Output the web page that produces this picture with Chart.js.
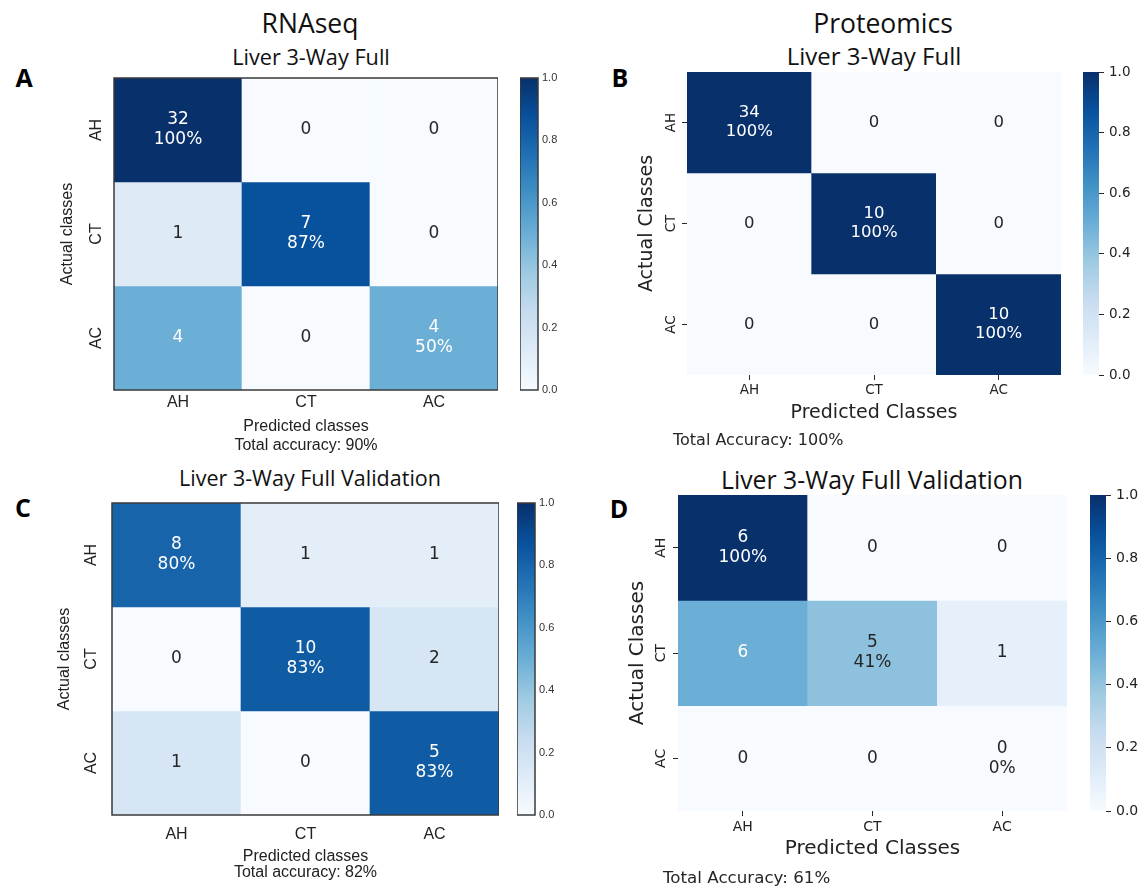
<!DOCTYPE html>
<html>
<head>
<meta charset="utf-8">
<script src="https://cdn.jsdelivr.net/npm/chart.js@4.4.1/dist/chart.umd.min.js"></script>
<style>
  html, body { margin: 0; padding: 0; background: #fff; }
  body { width: 1144px; height: 888px; position: relative; overflow: hidden; font-family: "Open Sans", sans-serif; color: #111; }
  .t { position: absolute; white-space: nowrap; line-height: 1; transform: translate(-50%, -50%); }
  .letter { font-weight: 700; color: #000; }
  .acc { position: absolute; white-space: nowrap; line-height: 1; transform: translateY(-50%); font-family: "DejaVu Sans"; color: #262626; }
  canvas { position: absolute; }
</style>
</head>
<body>
<div class="t" style="left:310px;top:23px;font-size:26.5px">RNAseq</div>
<div class="t" style="left:883px;top:23px;font-size:26.5px">Proteomics</div>

<div class="t letter" style="left:24px;top:77px;font-size:25px">A</div>
<div class="t letter" style="left:620px;top:77px;font-size:25px">B</div>
<div class="t letter" style="left:23px;top:507px;font-size:25px">C</div>
<div class="t letter" style="left:619px;top:508px;font-size:25px">D</div>

<div class="t" style="left:311px;top:57px;font-size:21.7px">Liver 3-Way Full</div>
<div class="t" style="left:874px;top:56px;font-size:24px">Liver 3-Way Full</div>
<div class="t" style="left:310px;top:478px;font-size:21.5px">Liver 3-Way Full Validation</div>
<div class="t" style="left:872px;top:479px;font-size:24.8px">Liver 3-Way Full Validation</div>

<script>
// ---- data -------------------------------------------------------------
const CLASSES = ['AH', 'CT', 'AC'];

// confusion matrices: rows = actual class, columns = predicted class
const RNASEQ_FULL           = [[32, 0, 0], [1, 7, 0], [4, 0, 4]];
const PROTEOMICS_FULL       = [[34, 0, 0], [0, 10, 0], [0, 0, 10]];
const RNASEQ_VALIDATION     = [[8, 1, 1], [0, 10, 2], [1, 0, 5]];
const PROTEOMICS_VALIDATION = [[6, 0, 0], [6, 5, 1], [0, 0, 0]];

const COLORBAR_TICKS = [0, 0.2, 0.4, 0.6, 0.8, 1.0];

// ---- helpers ----------------------------------------------------------
// sequential "Blues" colormap control colours (low -> high)
const BLUES = ['#f7fbff', '#deebf7', '#c6dbef', '#9ecae1', '#6baed6',
               '#4292c6', '#2171b5', '#08519c', '#08306b'];

function hexRgb(h) {
  const n = parseInt(h.slice(1), 16);
  return [(n >> 16) & 255, (n >> 8) & 255, n & 255];
}

function blues(t) {
  t = Math.max(0, Math.min(1, t));
  const pos = t * (BLUES.length - 1);
  const i = Math.min(Math.floor(pos), BLUES.length - 2);
  const f = pos - i;
  const a = hexRgb(BLUES[i]), b = hexRgb(BLUES[i + 1]);
  const c = a.map((v, k) => Math.round(v + (b[k] - v) * f));
  return `rgb(${c[0]},${c[1]},${c[2]})`;
}

function rowShares(m) {
  return m.map(r => {
    const s = r.reduce((a, b) => a + b, 0);
    return r.map(v => (s ? v / s : 0));
  });
}

function accuracy(m) {
  let hit = 0, all = 0;
  m.forEach((r, i) => r.forEach((v, j) => { all += v; if (i === j) hit += v; }));
  return Math.round(100 * hit / all);
}

const measureCtx = document.createElement('canvas').getContext('2d');
function textWidth(txt, size, family) {
  measureCtx.font = `${size}px "${family}"`;
  return measureCtx.measureText(txt).width;
}

Chart.defaults.font.family = 'DejaVu Sans';
Chart.defaults.color = '#262626';

// ---- plugins ----------------------------------------------------------
// count (and row percentage on the diagonal) written in every cell
const cellLabels = {
  id: 'cellLabels',
  afterDatasetsDraw(chart, args, opts) {
    if (!opts.counts) return;
    const { ctx, scales: { x, y } } = chart;
    const shares = rowShares(opts.counts);
    ctx.save();
    ctx.font = `${opts.size}px "DejaVu Sans"`;
    ctx.textAlign = 'center';
    ctx.textBaseline = 'middle';
    opts.counts.forEach((row, i) => row.forEach((v, j) => {
      const cx = x.getPixelForValue(j);
      const cy = y.getPixelForValue(i + 0.5);
      ctx.fillStyle = shares[i][j] >= 0.5 ? '#ffffff' : '#262626';
      if (i === j) {
        const pct = Math.floor(100 * shares[i][j] + 1e-9) + '%';
        ctx.fillText(String(v), cx, cy - opts.gap / 2);
        ctx.fillText(pct, cx, cy + opts.gap / 2);
      } else {
        ctx.fillText(String(v), cx, cy);
      }
    }));
    ctx.restore();
  }
};

// thin dark frame around the plotting area
const frame = {
  id: 'frame',
  afterDraw(chart, args, opts) {
    if (!opts.show) return;
    const { ctx, chartArea: a } = chart;
    ctx.save();
    ctx.strokeStyle = opts.color;
    ctx.lineWidth = opts.width;
    ctx.strokeRect(a.left, a.top, a.right - a.left, a.bottom - a.top);
    ctx.restore();
  }
};

// ---- panels -----------------------------------------------------------
const PANELS = [
  { counts: RNASEQ_FULL, style: 'classic',
    plot: { l: 114, t: 78, w: 384, h: 312 },
    yTitle: 'Actual classes', xTitle: 'Predicted classes', accLabel: 'Total accuracy: ',
    yTitleX: 68, yTickX: 97, xTickY: 403, xTitleY: [427, 446],
    fonts: { family: 'Liberation Sans', tick: 16, title: 16, titleLH: 19, cell: 17, gap: 20, cb: 11 },
    cb: { l: 520, t: 78, w: 18, h: 312 } },
  { counts: PROTEOMICS_FULL, style: 'seaborn',
    plot: { l: 687, t: 72, w: 374, h: 303 },
    yTitle: 'Actual Classes', xTitle: 'Predicted Classes', accLabel: 'Total Accuracy: ',
    yTitleX: 647, yTickX: 671, xTickY: 390, xTitleY: [413], acc: { x: 673, y: 440, size: 16 },
    fonts: { family: 'DejaVu Sans', tick: 13.5, title: 19, titleLH: 22.8, cell: 16.5, gap: 19, cb: 13.5 },
    cb: { l: 1083, t: 72, w: 16, h: 303 } },
  { counts: RNASEQ_VALIDATION, style: 'classic',
    plot: { l: 112, t: 503, w: 387, h: 312 },
    yTitle: 'Actual classes', xTitle: 'Predicted classes', accLabel: 'Total accuracy: ',
    yTitleX: 65, yTickX: 92, xTickY: 835, xTitleY: [857, 873],
    fonts: { family: 'Liberation Sans', tick: 16, title: 16, titleLH: 16, cell: 17, gap: 20, cb: 11 },
    cb: { l: 517, t: 503, w: 18, h: 312 } },
  { counts: PROTEOMICS_VALIDATION, style: 'seaborn',
    plot: { l: 678, t: 495, w: 389, h: 316 },
    yTitle: 'Actual Classes', xTitle: 'Predicted Classes', accLabel: 'Total Accuracy: ',
    yTitleX: 638, yTickX: 661, xTickY: 827, xTitleY: [849], acc: { x: 663, y: 877, size: 16.7 },
    fonts: { family: 'DejaVu Sans', tick: 14, title: 20, titleLH: 24, cell: 17, gap: 20, cb: 14 },
    cb: { l: 1090, t: 495, w: 16, h: 316 } }
];

const Y_W = 80, PAD_T = 24, X_H = 70;

function addCanvas(left, top, w, h) {
  const c = document.createElement('canvas');
  c.width = w; c.height = h;
  c.style.left = left + 'px';
  c.style.top = top + 'px';
  c.style.width = w + 'px';
  c.style.height = h + 'px';
  document.body.appendChild(c);
  return c;
}

function drawHeatmap(p) {
  const f = p.fonts;
  const seaborn = p.style === 'seaborn';
  const tl = seaborn ? 5 : 0;
  const shares = rowShares(p.counts);
  const canvasLeft = p.plot.l - Y_W;
  const bottom = p.plot.t + p.plot.h;
  const canvas = addCanvas(canvasLeft, p.plot.t - PAD_T, Y_W + p.plot.w, PAD_T + p.plot.h + X_H);

  const widest = Math.max(...CLASSES.map(c => textWidth(c, f.tick, f.family)));
  const yTickPad = p.plot.l - tl - p.yTickX - widest / 2;
  const xTickPad = p.xTickY - bottom - tl - f.tick * 0.6;
  const yTitlePad = p.yTitleX - canvasLeft - f.title * 0.6;
  const xTitlePad = bottom + X_H - p.xTitleY[p.xTitleY.length - 1] - f.titleLH / 2;

  const acc = accuracy(p.counts);
  const xTitleText = p.acc ? p.xTitle : [p.xTitle, p.accLabel + acc + '%'];
  if (p.acc) {
    const d = document.createElement('div');
    d.className = 'acc';
    d.style.left = p.acc.x + 'px';
    d.style.top = p.acc.y + 'px';
    d.style.fontSize = p.acc.size + 'px';
    d.textContent = p.accLabel + acc + '%';
    document.body.appendChild(d);
  }

  const tickGrid = seaborn
    ? { display: true, drawOnChartArea: false, drawTicks: true, tickLength: 5, color: '#262626', lineWidth: 1, offset: false }
    : { display: false, drawTicks: false, offset: false };

  new Chart(canvas, {
    type: 'bar',
    data: {
      labels: CLASSES,
      datasets: p.counts.map((row, i) => ({
        label: CLASSES[i],
        data: row.map(() => [i, i + 1]),
        backgroundColor: shares[i].map(blues),
        borderWidth: 0,
        barPercentage: 1,
        categoryPercentage: 1,
        grouped: false
      }))
    },
    options: {
      responsive: false,
      animation: false,
      events: [],
      layout: { padding: { top: PAD_T, left: 0, right: 0, bottom: 0 } },
      plugins: {
        legend: { display: false },
        tooltip: { enabled: false },
        cellLabels: { counts: p.counts, size: f.cell, gap: f.gap },
        frame: { show: !seaborn, color: '#3a3a3a', width: 1.5 }
      },
      scales: {
        x: {
          type: 'category',
          offset: true,
          grid: tickGrid,
          border: { display: false },
          ticks: { font: { family: f.family, size: f.tick }, color: '#222', padding: xTickPad, maxRotation: 0, autoSkip: false },
          title: {
            display: true, text: xTitleText, color: '#222',
            font: { family: f.family, size: f.title, lineHeight: f.titleLH / f.title },
            padding: { top: 0, bottom: xTitlePad }
          },
          afterFit: s => { s.height = X_H; }
        },
        y: {
          type: 'linear',
          min: 0, max: 3, reverse: true,
          afterBuildTicks: s => { s.ticks = CLASSES.map((_, i) => ({ value: i + 0.5 })); },
          grid: tickGrid,
          border: { display: false },
          ticks: {
            callback: v => CLASSES[Math.floor(v)],
            minRotation: 90, maxRotation: 90, crossAlign: 'center',
            padding: yTickPad, autoSkip: false,
            font: { family: f.family, size: f.tick }, color: '#222'
          },
          title: {
            display: true, text: p.yTitle, color: '#222',
            font: { family: f.family, size: f.title },
            padding: { top: yTitlePad, bottom: 0 }
          },
          afterFit: s => { s.width = Y_W; }
        }
      }
    },
    plugins: [cellLabels, frame]
  });
}

function cbGradient(c) {
  const chart = c.chart;
  if (!chart.chartArea) return BLUES[0];
  const ys = chart.scales.y;
  const g = chart.ctx.createLinearGradient(0, ys.getPixelForValue(0), 0, ys.getPixelForValue(1));
  BLUES.forEach((col, k) => g.addColorStop(k / (BLUES.length - 1), col));
  return g;
}

function drawColorbar(p) {
  const f = p.fonts;
  const seaborn = p.style === 'seaborn';
  const LABEL_W = 50, PAD = 20;
  const canvas = addCanvas(p.cb.l, p.cb.t - PAD, p.cb.w + LABEL_W, p.cb.h + 2 * PAD);
  new Chart(canvas, {
    type: 'bar',
    data: {
      labels: ['scale'],
      datasets: [{ data: [[0, 1]], backgroundColor: cbGradient, borderWidth: 0, barPercentage: 1, categoryPercentage: 1 }]
    },
    options: {
      responsive: false,
      animation: false,
      events: [],
      layout: { padding: { top: PAD, bottom: PAD, left: 0, right: 0 } },
      plugins: {
        legend: { display: false },
        tooltip: { enabled: false },
        frame: { show: !seaborn, color: '#3a3a3a', width: 1.5 }
      },
      scales: {
        x: { display: false },
        y: {
          position: 'right',
          min: 0, max: 1,
          afterBuildTicks: s => { s.ticks = COLORBAR_TICKS.map(v => ({ value: v })); },
          grid: seaborn
            ? { display: true, drawOnChartArea: false, drawTicks: true, tickLength: 5, color: '#262626', lineWidth: 1 }
            : { display: false, drawTicks: false },
          border: { display: false },
          ticks: {
            callback: v => v.toFixed(1),
            padding: seaborn ? 5 : 4,
            font: { family: f.family, size: f.cb },
            color: seaborn ? '#222' : '#333'
          },
          afterFit: s => { s.width = LABEL_W; }
        }
      }
    },
    plugins: [frame]
  });
}

PANELS.forEach(p => { drawHeatmap(p); drawColorbar(p); });
</script>
</body>
</html>
